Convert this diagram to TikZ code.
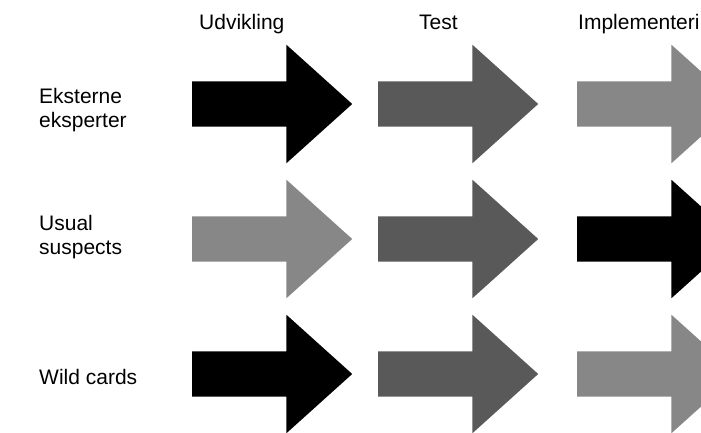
\documentclass[tikz,border=0pt]{standalone}
\usepackage{fontspec}
\setmainfont{Liberation Sans}
\usepackage{tikz}
\usetikzlibrary{shapes.arrows}
\definecolor{darkgrey}{HTML}{595959}
\definecolor{lightgrey}{HTML}{878787}
\tikzset{
  bigarrow/.style={single arrow, anchor=tail, inner xsep=0pt, inner ysep=22.5pt, minimum width=118pt,
    minimum height=160pt, single arrow head extend=36.5pt, single arrow tip angle=84},
  lbl/.style={anchor=base west, inner sep=0pt, font=\fontsize{21}{24}\selectfont, align=left}
}
\begin{document}
\begin{tikzpicture}[x=1pt, y=-1pt]
\useasboundingbox (0,0) rectangle (701,433);
\clip (0,0) rectangle (701,433);
% column headers
\node[lbl] (h1) at (199,30) {Udvikling};
\node[lbl] (h2) at (419,30) {Test};
\node[lbl] (h3) at (578,30) {Implementeri};
% row labels
\node[lbl] (r1) at (39,128) {Eksterne\\eksperter};
\node[lbl] (r2) at (39,254) {Usual\\suspects};
\node[lbl] (r3) at (39,384) {Wild cards};
% 1st column
\node[bigarrow, fill=black] (a1_1) at (192,104) {};
\node[bigarrow, fill=lightgrey] (a2_1) at (192,239) {};
\node[bigarrow, fill=black] (a3_1) at (192,374) {};
% 2nd column
\node[bigarrow, fill=darkgrey] (a1_2) at (378,104) {};
\node[bigarrow, fill=darkgrey] (a2_2) at (378,239) {};
\node[bigarrow, fill=darkgrey] (a3_2) at (378,374) {};
% 3rd column
\node[bigarrow, fill=lightgrey] (a1_3) at (577,104) {};
\node[bigarrow, fill=black] (a2_3) at (577,239) {};
\node[bigarrow, fill=lightgrey] (a3_3) at (577,374) {};
\end{tikzpicture}
\end{document}
